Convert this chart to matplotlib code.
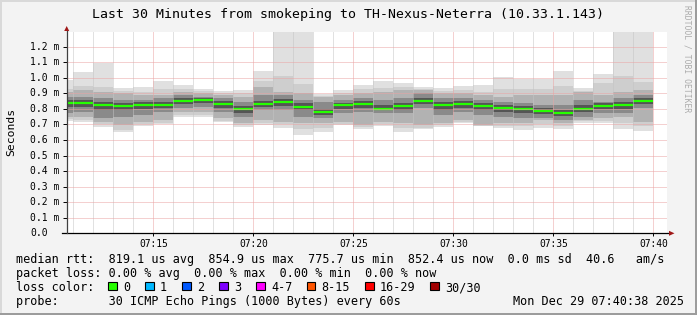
import numpy as np
import matplotlib.pyplot as plt
from matplotlib import transforms
from matplotlib.patches import Rectangle, Polygon

# figure geometry (pixels)
W, H = 697, 315
DPI = 100
PLOT_L, PLOT_R = 66.7, 666.7
PLOT_T, PLOT_B = 32.3, 233.3
MONO = "DejaVu Sans Mono"

# DATA: one bar per minute, values in ms
times = ["07:11", "07:12", "07:13", "07:14", "07:15", "07:16", "07:17", "07:18",
         "07:19", "07:20", "07:21", "07:22", "07:23", "07:24", "07:25", "07:26",
         "07:27", "07:28", "07:29", "07:30", "07:31", "07:32", "07:33", "07:34",
         "07:35", "07:36", "07:37", "07:38", "07:39", "07:40"]

rtt_max = [0.986, 1.037, 1.097, 0.932, 0.939, 0.979, 0.954, 0.926, 0.915, 0.922,
           1.044, 1.350, 1.350, 0.894, 0.924, 0.954, 0.979, 0.966, 0.939, 0.932,
           0.947, 0.954, 1.005, 0.994, 0.994, 1.044, 0.932, 1.024, 1.350, 1.350]
rtt_p95 = [0.930, 0.950, 0.943, 0.915, 0.910, 0.930, 0.930, 0.912, 0.900, 0.900,
           0.980, 1.012, 0.960, 0.885, 0.905, 0.925, 0.935, 0.940, 0.930, 0.915,
           0.920, 0.910, 0.930, 0.930, 0.925, 0.950, 0.918, 0.964, 1.012, 0.975]
rtt_p90 = [0.911, 0.922, 0.911, 0.900, 0.889, 0.889, 0.911, 0.900, 0.889, 0.879,
           0.943, 0.911, 0.900, 0.875, 0.889, 0.900, 0.911, 0.922, 0.922, 0.900,
           0.900, 0.889, 0.879, 0.889, 0.889, 0.889, 0.911, 0.889, 0.911, 0.922]
rtt_p75 = [0.879, 0.879, 0.868, 0.857, 0.857, 0.868, 0.889, 0.879, 0.868, 0.847,
           0.889, 0.889, 0.857, 0.847, 0.857, 0.868, 0.857, 0.868, 0.900, 0.868,
           0.868, 0.857, 0.847, 0.836, 0.825, 0.825, 0.857, 0.847, 0.868, 0.889]
rtt_p60 = [0.858, 0.855, 0.845, 0.838, 0.842, 0.845, 0.868, 0.870, 0.850, 0.820,
           0.852, 0.862, 0.835, 0.800, 0.840, 0.850, 0.822, 0.840, 0.870, 0.842,
           0.848, 0.838, 0.825, 0.818, 0.806, 0.795, 0.822, 0.835, 0.843, 0.870]
rtt_median = [0.840, 0.836, 0.825, 0.819, 0.825, 0.825, 0.850, 0.855, 0.832, 0.800,
              0.830, 0.842, 0.815, 0.782, 0.823, 0.832, 0.800, 0.819, 0.852, 0.823,
              0.830, 0.819, 0.806, 0.800, 0.789, 0.776, 0.800, 0.819, 0.823, 0.852]
rtt_p40 = [0.815, 0.812, 0.790, 0.790, 0.800, 0.805, 0.830, 0.838, 0.808, 0.775,
           0.812, 0.818, 0.790, 0.762, 0.800, 0.808, 0.790, 0.795, 0.830, 0.795,
           0.808, 0.795, 0.780, 0.772, 0.765, 0.755, 0.778, 0.798, 0.800, 0.830]
rtt_p25 = [0.772, 0.782, 0.739, 0.750, 0.761, 0.782, 0.804, 0.814, 0.782, 0.750,
           0.793, 0.793, 0.750, 0.739, 0.772, 0.782, 0.772, 0.772, 0.804, 0.761,
           0.782, 0.761, 0.750, 0.739, 0.739, 0.729, 0.750, 0.772, 0.772, 0.804]
rtt_p10 = [0.746, 0.746, 0.718, 0.697, 0.718, 0.729, 0.782, 0.782, 0.739, 0.707,
           0.729, 0.718, 0.707, 0.707, 0.718, 0.697, 0.718, 0.707, 0.697, 0.707,
           0.729, 0.697, 0.707, 0.707, 0.729, 0.707, 0.729, 0.739, 0.750, 0.718]
rtt_p05 = [0.735, 0.730, 0.700, 0.665, 0.700, 0.712, 0.760, 0.758, 0.725, 0.695,
           0.710, 0.700, 0.670, 0.680, 0.705, 0.685, 0.700, 0.680, 0.680, 0.695,
           0.715, 0.693, 0.690, 0.688, 0.700, 0.690, 0.720, 0.722, 0.710, 0.690]
rtt_min = [0.724, 0.718, 0.686, 0.653, 0.692, 0.703, 0.750, 0.746, 0.718, 0.686,
           0.696, 0.679, 0.632, 0.653, 0.696, 0.673, 0.692, 0.653, 0.669, 0.686,
           0.707, 0.690, 0.679, 0.666, 0.679, 0.673, 0.711, 0.711, 0.669, 0.660]

y_ticks = [0.0, 0.1, 0.2, 0.3, 0.4, 0.5, 0.6, 0.7, 0.8, 0.9, 1.0, 1.1, 1.2]
y_tick_labels = ["0.0", "0.1 m", "0.2 m", "0.3 m", "0.4 m", "0.5 m", "0.6 m",
                 "0.7 m", "0.8 m", "0.9 m", "1.0 m", "1.1 m", "1.2 m"]
x_major_labels = ["07:15", "07:20", "07:25", "07:30", "07:35", "07:40"]

loss_labels = ["0", "1", "2", "3", "4-7", "8-15", "16-29", "30/30"]
loss_colors = ["#26ff00", "#00b8ff", "#0059ff", "#7e00ff", "#ff00ff", "#ff5500",
               "#ff0000", "#a10000"]

legend_rtt = "median rtt:  819.1 us avg  854.9 us max  775.7 us min  852.4 us now  0.0 ms sd  40.6   am/s"
legend_loss = "packet loss: 0.00 % avg  0.00 % max  0.00 % min  0.00 % now"
legend_probe = "probe:       30 ICMP Echo Pings (1000 Bytes) every 60s"
legend_date = "Mon Dec 29 07:40:38 2025"


def fx(px):
    return px / W


def fy(py):
    return 1 - py / H


end_minutes = np.array([int(t.split(":")[1]) for t in times])
start_minutes = end_minutes - 1
x_left_min = 10 + 40 / 60
x_right_min = x_left_min + 30
y_top = (PLOT_B - PLOT_T) / 155.5

fig = plt.figure(figsize=(W / DPI, H / DPI), dpi=DPI, facecolor="#f3f3f3")

# 3d-ish frame of the canvas
fig.add_artist(Rectangle((0, 0), 2 / W, 1, transform=fig.transFigure, color="#d9d9d9", lw=0))
fig.add_artist(Rectangle((0, 1 - 2 / H), 1, 2 / H, transform=fig.transFigure, color="#d9d9d9", lw=0))
fig.add_artist(Rectangle((1 - 2 / W, 0), 2 / W, 1, transform=fig.transFigure, color="#9c9c9c", lw=0))
fig.add_artist(Rectangle((0, 0), 1, 2 / H, transform=fig.transFigure, color="#9c9c9c", lw=0))

ax = fig.add_axes([fx(PLOT_L), fy(PLOT_B), (PLOT_R - PLOT_L) / W, (PLOT_B - PLOT_T) / H])
ax.set_facecolor("white")
ax.set_xlim(x_left_min, x_right_min)
ax.set_ylim(0, y_top)

# smoke: outer pairs light, inner pairs dark
layers = [
    (rtt_min, rtt_max, "#e0e0e0"),
    (rtt_p05, rtt_p95, "#cecece"),
    (rtt_p10, rtt_p90, "#b2b2b2"),
    (rtt_p25, rtt_p75, "#8a8a8a"),
    (rtt_p40, rtt_p60, "#555555"),
]
for low, high, colour in layers:
    low = np.array(low)
    high = np.array(high)
    ax.bar(start_minutes, high - low, bottom=low, width=1, align="edge",
           color=colour, linewidth=0, zorder=1)

ax.hlines(rtt_median, start_minutes, end_minutes, colors=loss_colors[0],
          linewidth=1.6, zorder=2)

# grid (drawn over the smoke like rrdtool)
ax.set_xticks([m for m in end_minutes if m % 5 == 0])
ax.set_xticks(end_minutes, minor=True)
ax.set_xticklabels(x_major_labels, family=MONO, fontsize=6.9)
ax.set_yticks(y_ticks)
ax.set_yticklabels([])
ax.set_axisbelow(False)
ax.grid(which="major", color="#eba3a3", linestyle=(0, (1, 1)), linewidth=0.72)
ax.grid(which="minor", axis="x", color="#c4c4c4", linestyle=(0, (1, 1)), linewidth=0.72)
ax.tick_params(axis="x", which="major", length=2, width=0.7, pad=2, colors="black")
ax.tick_params(axis="x", which="minor", length=0)
ax.tick_params(axis="y", which="major", length=3, width=0.7)
for spine in ax.spines.values():
    spine.set_visible(False)

label_tf = transforms.blended_transform_factory(fig.transFigure, ax.transData)
for value, label in zip(y_ticks, y_tick_labels):
    ax.text(fx(30), value, label, transform=label_tf, ha="left", va="center",
            family=MONO, fontsize=7)


# axes with arrows
def ax_pt(px, py):
    return ((px - PLOT_L) / (PLOT_R - PLOT_L), (PLOT_B - py) / (PLOT_B - PLOT_T))


xa0, xa1 = ax_pt(61.7, PLOT_B), ax_pt(670, PLOT_B)
ax.plot([xa0[0], xa1[0]], [0, 0], transform=ax.transAxes, clip_on=False,
        color="black", lw=0.9, zorder=6)
ya1 = ax_pt(PLOT_L, 30)
ax.plot([0, 0], [0, ya1[1]], transform=ax.transAxes, clip_on=False,
        color="#404040", lw=0.9, zorder=6)
ax.add_patch(Polygon([ax_pt(669, 230.8), ax_pt(669, 235.8), ax_pt(674.5, 233.3)],
                     closed=True, transform=ax.transAxes, clip_on=False,
                     color="#a01818", lw=0, zorder=7))
ax.add_patch(Polygon([ax_pt(64.2, 31), ax_pt(69.2, 31), ax_pt(66.7, 26)],
                     closed=True, transform=ax.transAxes, clip_on=False,
                     color="#a01818", lw=0, zorder=7))

# title, axis label, watermark
fig.text(fx(348), fy(18.3), "Last 30 Minutes from smokeping to TH-Nexus-Neterra (10.33.1.143)",
         ha="center", va="baseline", family=MONO, fontsize=9.5)
fig.text(fx(11), fy(131.5), "Seconds", rotation=90, ha="center", va="center",
         family=MONO, fontsize=8.2)
fig.text(fx(687), fy(5), "RRDTOOL / TOBI OETIKER", rotation=270, ha="center", va="top",
         family=MONO, fontsize=5.8, color="#ababab")

# legend lines (monospace columns like rrdtool)
legend_size = 8.5
for baseline, s in [(263.3, legend_rtt), (277.3, legend_loss), (305.3, legend_probe)]:
    fig.text(fx(16), fy(baseline), s, ha="left", va="baseline",
             family=MONO, fontsize=legend_size)
fig.text(fx(513.3), fy(305.3), legend_date, ha="left", va="baseline",
         family=MONO, fontsize=legend_size)

fig.text(fx(16), fy(291.3), "loss color:", ha="left", va="baseline",
         family=MONO, fontsize=legend_size)
box_x = [108.3, 145.0, 182.3, 219.3, 256.0, 306.7, 365.0, 430.0]
for bx, label, colour in zip(box_x, loss_labels, loss_colors):
    fig.add_artist(Rectangle((fx(bx), fy(290.3)), 8.5 / W, 8.5 / H,
                             transform=fig.transFigure, facecolor=colour,
                             edgecolor="black", lw=0.8))
    fig.text(fx(bx + 15), fy(291.3), label, ha="left", va="baseline",
             family=MONO, fontsize=legend_size)

fig.savefig("out.png", dpi=DPI, facecolor=fig.get_facecolor())
